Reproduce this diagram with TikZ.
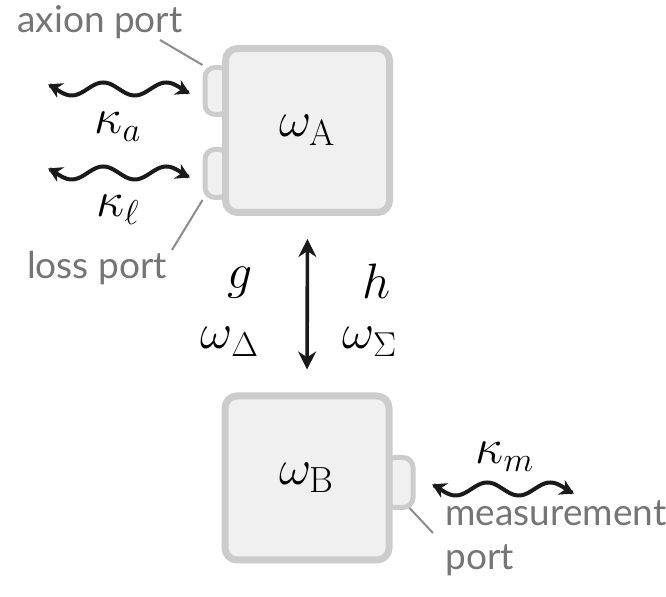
\documentclass[tikz,border=0pt]{standalone}
\usepackage{fontspec}
\setsansfont{Lato}
\usetikzlibrary{arrows.meta}
\definecolor{boxfill}{HTML}{F0F0F0}
\definecolor{boxline}{HTML}{CCCCCC}
\definecolor{labgray}{HTML}{757575}
\definecolor{leadgray}{HTML}{8C8C8C}
\definecolor{arrowblack}{HTML}{1A1A1A}
\tikzset{
  cavity/.style={draw=boxline, fill=boxfill, line width=3.5pt, rounded corners=6pt,
    minimum width=82pt, minimum height=82pt, inner sep=0pt, font=\fontsize{26}{30}\selectfont},
  portbox/.style={draw=boxline, fill=boxfill, line width=2.5pt, rounded corners=5pt, inner sep=0pt},
  portlabel/.style={text=labgray, font=\sffamily\fontsize{18.5}{22}\selectfont, inner sep=0pt},
  mathlabel/.style={font=\fontsize{26}{30}\selectfont, inner sep=0pt},
  leader/.style={draw=leadgray, line width=1pt},
  wave/.style={draw=arrowblack, line width=2pt, {Stealth[length=7pt,width=8pt]}-{Stealth[length=7pt,width=8pt]}},
  coupling/.style={draw=arrowblack, line width=1.8pt, {Stealth[length=9pt,width=9pt]}-{Stealth[length=9pt,width=9pt]}, shorten <=11.5pt, shorten >=11.5pt}
}
\begin{document}
\begin{tikzpicture}[x=0.5pt,y=-0.5pt]
\useasboundingbox (0,0) rectangle (666,597);
% ports (drawn under the boxes)
\node[portbox, minimum width=12pt, minimum height=23.5pt] (pa) at (217,91) {};
\node[portbox, minimum width=12pt, minimum height=24pt] (pl) at (217,173.5) {};
\node[portbox, minimum width=14pt, minimum height=25pt] (pm) at (399,482.5) {};
% cavities
\node[cavity] (A) at (307.5,130.5) {$\omega_{\mathrm{A}}$};
\node[cavity] (B) at (307,478) {$\omega_{\mathrm{B}}$};
% coupling arrow
\draw[coupling] (A.south) -- (B.north);
\node[mathlabel] (g) at (240,283) {$g$};
\node[mathlabel] (h) at (377,281) {$h$};
\node[mathlabel] (wd) at (230,342) {$\omega_{\Delta}$};
\node[mathlabel] (ws) at (370,342) {$\omega_{\Sigma}$};
% wavy arrows
\draw[wave] plot[domain=0.05:0.95, samples=80, smooth] ({48+142*(\x-0.05)/0.9}, {89-6.5*cos(900*\x)});
\draw[wave] plot[domain=0.05:0.95, samples=80, smooth] ({48+142*(\x-0.05)/0.9}, {173-6.5*cos(900*\x)});
\draw[wave] plot[domain=0.05:0.95, samples=80, smooth] ({432+142*(\x-0.05)/0.9}, {489-6.5*cos(900*\x)});
\node[mathlabel] (ka) at (118,127) {$\kappa_a$};
\node[mathlabel] (kl) at (118,210) {$\kappa_\ell$};
\node[mathlabel] (km) at (505,457) {$\kappa_m$};
% port labels
\node[portlabel] (axl) at (100,22) {axion port};
\node[portlabel] (lol) at (97,268) {loss port};
\node[portlabel, anchor=west] (mel) at (445,513) {measurement};
\node[portlabel, anchor=west] (mep) at (445,560) {port};
\coordinate (axs) at (160,40);
\coordinate (los) at (172,250);
\coordinate (mes) at (433,533);
\draw[leader] (axs) -- (pa.north west);
\draw[leader] (los) -- (pl.south west);
\draw[leader] (mes) -- ([xshift=-3pt,yshift=1pt]pm.south east);
\end{tikzpicture}
\end{document}
